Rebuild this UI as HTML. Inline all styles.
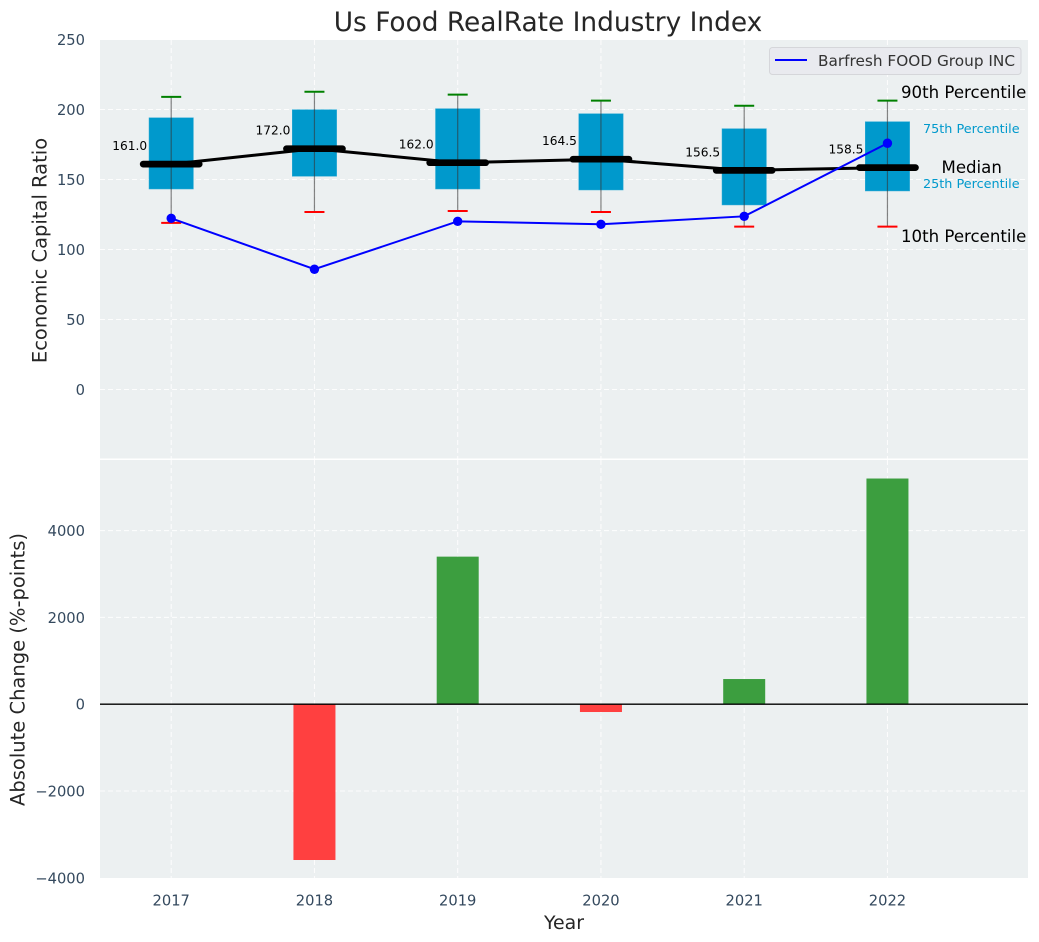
<!DOCTYPE html>
<html>
<head>
<meta charset="utf-8">
<title>Us Food RealRate Industry Index</title>
<style>
html,body{margin:0;padding:0;background:#fff;}
svg{display:block;}
text{font-family:"DejaVu Sans","Liberation Sans",sans-serif;}
</style>
</head>
<body>
<svg id="chart" width="1039" height="942" viewBox="0 0 1039 942" xmlns="http://www.w3.org/2000/svg"></svg>
<script>
const categories = [2017, 2018, 2019, 2020, 2021, 2022];
const p90 = [209, 212.7, 210.6, 206.3, 202.7, 206.3];
const p75 = [194.1, 199.9, 200.6, 197, 186.3, 191.3];
const medians = [161, 172, 162, 164.5, 156.5, 158.5];
const p25 = [143.2, 152.3, 143.2, 142.5, 131.8, 141.8];
const p10 = [119, 126.8, 127.5, 126.8, 116.3, 116.3];
const companyValues = [122.3, 85.9, 120.1, 118, 123.7, 175.9];
const changeValues = [null, -3590, 3400, -180, 580, 5200];
const topTicks = [0, 50, 100, 150, 200, 250];
const bottomTicks = [-4000, -2000, 0, 2000, 4000];
const medianLabels = ['161.0', '172.0', '162.0', '164.5', '156.5', '158.5'];

const NS = 'http://www.w3.org/2000/svg';
const svg = document.getElementById('chart');
const L = 100, R = 1028, T1 = 40, B1 = 458.5, T2 = 460, B2 = 878;
const xS = i => 171.2 + (i * 143.25);
const y1 = v => 389.5 - v * 1.4;
const y2 = v => 704.2 - v * 0.0434;

function add(tag, attrs, text) {
  const el = document.createElementNS(NS, tag);
  for (const k in attrs) el.setAttribute(k, attrs[k]);
  if (text !== undefined) el.textContent = text;
  svg.appendChild(el);
  return el;
}
function name(el, n, inter) {
  
  
  return el;
}
const GRID = {stroke:'#ffffff', 'stroke-width':1, 'stroke-dasharray':'5,3', opacity:0.9};
const TICK = '#34495e';

name(add('rect', {x:L, y:T1, width:R-L, height:B1-T1, fill:'#ecf0f1'}), 'top-plot-area');
name(add('rect', {x:L, y:T2, width:R-L, height:B2-T2, fill:'#ecf0f1'}), 'bottom-plot-area');

// gridlines
topTicks.forEach(t => {
  if (t < 250) name(add('line', Object.assign({x1:L, x2:R, y1:y1(t), y2:y1(t)}, GRID)), 'top-h-grid-' + t);
  name(add('text', {x:85, y:y1(t)+5.5, 'text-anchor':'end', 'font-size':14.7, fill:TICK}, String(t)), 'top-y-tick-' + t);
});
bottomTicks.forEach(t => {
  if (t !== -4000) name(add('line', Object.assign({x1:L, x2:R, y1:y2(t), y2:y2(t)}, GRID)), 'bottom-h-grid-' + t);
  name(add('text', {x:85, y:y2(t)+5.5, 'text-anchor':'end', 'font-size':14.7, fill:TICK}, String(t).replace('-', '\u2212')), 'bottom-y-tick-' + t);
});
categories.forEach((c, i) => {
  name(add('line', Object.assign({x1:xS(i), x2:xS(i), y1:T1, y2:B1}, GRID)), 'top-v-grid-' + c);
  name(add('line', Object.assign({x1:xS(i), x2:xS(i), y1:T2, y2:B2}, GRID)), 'bottom-v-grid-' + c);
  name(add('text', {x:xS(i), y:905.5, 'text-anchor':'middle', 'font-size':14.7, fill:TICK}, String(c)), 'x-tick-' + c);
});

// boxes
categories.forEach((c, i) => {
  const x = xS(i);
  name(add('rect', {x:x-22.2, y:y1(p75[i]), width:44.4, height:y1(p25[i])-y1(p75[i]), fill:'#0099cc', stroke:'#33add6', 'stroke-width':0.5}), 'box-' + c);
  name(add('line', {x1:x, x2:x, y1:y1(p90[i]), y2:y1(p10[i]), stroke:'#333', 'stroke-opacity':0.6, 'stroke-width':1.2}), 'whisker-' + c);
  name(add('line', {x1:x-10, x2:x+10, y1:y1(p90[i]), y2:y1(p90[i]), stroke:'#008000', 'stroke-width':2}), 'cap-p90-' + c);
  name(add('line', {x1:x-10, x2:x+10, y1:y1(p10[i]), y2:y1(p10[i]), stroke:'#ff0000', 'stroke-width':2}), 'cap-p10-' + c);
});

// median line
name(add('polyline', {points:medians.map((v,i)=>xS(i)+','+y1(v)).join(' '), fill:'none', stroke:'#000', 'stroke-width':3}), 'median-line');
categories.forEach((c, i) => {
  const x = xS(i);
  name(add('line', {x1:x-28, x2:x+28, y1:y1(medians[i]), y2:y1(medians[i]), stroke:'#000', 'stroke-width':6.7, 'stroke-linecap':'round'}), 'median-bar-' + c);
  name(add('text', {x:x-24, y:y1(medians[i])-14, 'text-anchor':'end', 'font-size':12.2, fill:'#000'}, medianLabels[i]), 'median-label-' + c);
});

// company line
name(add('polyline', {points:companyValues.map((v,i)=>xS(i)+','+y1(v)).join(' '), fill:'none', stroke:'#0000ff', 'stroke-width':2}), 'company-line');
categories.forEach((c, i) => {
  name(add('circle', {cx:xS(i), cy:y1(companyValues[i]), r:4.7, fill:'#0000ff'}), 'company-point-' + c);
});

// annotations
name(add('text', {x:901, y:98, 'font-size':16.6, fill:'#000'}, '90th Percentile'), 'label-90th-percentile');
name(add('text', {x:923, y:133, 'font-size':12.8, fill:'#0099cc'}, '75th Percentile'), 'label-75th-percentile');
name(add('text', {x:941.5, y:173, 'font-size':16.6, fill:'#000'}, 'Median'), 'label-median');
name(add('text', {x:923, y:188, 'font-size':12.8, fill:'#0099cc'}, '25th Percentile'), 'label-25th-percentile');
name(add('text', {x:901, y:242, 'font-size':16.6, fill:'#000'}, '10th Percentile'), 'label-10th-percentile');

// legend
name(add('rect', {x:769.5, y:47.5, width:251.5, height:27, rx:3, fill:'#e9eaef', stroke:'#d5d6da', 'stroke-width':1}), 'legend-box');
name(add('line', {x1:775, x2:807, y1:60, y2:60, stroke:'#0000ff', 'stroke-width':2}), 'legend-line-swatch');
name(add('text', {x:818, y:66, 'font-size':15.3, fill:'#333'}, 'Barfresh FOOD Group INC'), 'legend-label');

// bars
changeValues.forEach((v, i) => {
  if (v === null) return;
  const top = y2(Math.max(v, 0)), bot = y2(Math.min(v, 0));
  name(add('rect', {x:xS(i)-21, y:top, width:42, height:bot-top, fill:v >= 0 ? '#3c9e3f' : '#ff4040'}), 'change-bar-' + categories[i]);
});
name(add('line', {x1:L, x2:R, y1:y2(0), y2:y2(0), stroke:'#000', 'stroke-width':1.3}), 'zero-line');

// titles
name(add('text', {x:548, y:31, 'text-anchor':'middle', 'font-size':26.4, fill:'#262626'}, 'Us Food RealRate Industry Index'), 'chart-title');
name(add('text', {x:564, y:929, 'text-anchor':'middle', 'font-size':18.9, fill:'#262626'}, 'Year'), 'x-axis-title');
name(add('text', {x:0, y:0, transform:'translate(46.5,250.5) rotate(-90)', 'text-anchor':'middle', 'font-size':19.5, fill:'#262626'}, 'Economic Capital Ratio'), 'top-y-axis-title');
name(add('text', {x:0, y:0, transform:'translate(24.5,669.5) rotate(-90)', 'text-anchor':'middle', 'font-size':19.5, fill:'#262626'}, 'Absolute Change (%-points)'), 'bottom-y-axis-title');
</script>
</body>
</html>
